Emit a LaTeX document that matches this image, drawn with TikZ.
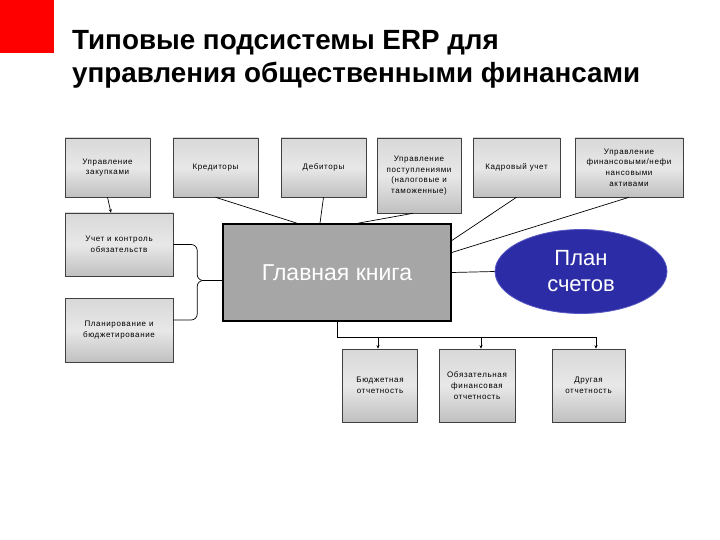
\documentclass[tikz,border=0pt]{standalone}
\usepackage{fontspec}
\setmainfont{Liberation Sans}
\newfontfamily\boxfont[LetterSpace=8]{Liberation Sans}
\usetikzlibrary{calc,arrows.meta,shapes.geometric}
\definecolor{corner}{HTML}{FF0000}
\definecolor{ink}{HTML}{000000}
\definecolor{frame}{HTML}{404040}
\definecolor{boxtop}{HTML}{D8D8D8}
\definecolor{boxmid}{HTML}{E8E8E8}
\definecolor{boxbot}{HTML}{C0C0C0}
\definecolor{ledger}{HTML}{A6A6A6}
\definecolor{chart}{HTML}{2C2CA6}
\definecolor{chartrim}{HTML}{5858C4}
\tikzset{
  title/.style={text=ink, font=\bfseries\fontsize{27.8}{32}\selectfont, inner sep=0pt},
  sub/.style={draw=frame, line width=0.6pt, top color=boxtop, bottom color=boxbot, middle color=boxmid,
    minimum width=85pt, minimum height=59pt, align=center, inner sep=1pt, text=ink,
    font=\boxfont\fontsize{8}{10.7}\selectfont},
  report/.style={sub, minimum width=75pt, minimum height=73pt},
  ledgerbox/.style={draw=ink, fill=ledger, line width=1.6pt, minimum width=228pt, minimum height=97pt,
    text=white, font=\fontsize{23}{27}\selectfont},
  chartell/.style={ellipse, draw=chartrim, fill=chart, line width=0.8pt, minimum width=172pt,
    minimum height=84pt, inner sep=0pt, align=center, text=white, font=\fontsize{22}{26}\selectfont},
  link/.style={draw=ink, line width=0.7pt},
  arr/.style={-{Stealth[length=3.5pt,width=3pt]}},
  shadeline/.style={draw=frame, line width=1.4pt},
}
\begin{document}
\begin{tikzpicture}[x=1pt,y=-1pt]
  \useasboundingbox (0,0) rectangle (720,540);
  \fill[corner] (0,0) rectangle (54,53);
  \node[title,anchor=base west] (t1) at (72,50) {Типовые подсистемы ERP для};
  \node[title,anchor=base west] (t2) at (72,83) {управления общественными финансами};

  % top row
  \node[sub] (zak) at (107.5,167.5) {Управление\\закупками};
  \node[sub] (kred) at (215.5,167.5) {Кредиторы};
  \node[sub] (deb) at (323.5,167.5) {Дебиторы};
  \node[sub,minimum width=84pt,minimum height=75pt] (post) at (419,175.5)
    {Управление\\поступлениями\\(налоговые и\\таможенные)};
  \node[sub,minimum width=87pt] (kadr) at (516.5,167.5) {Кадровый учет};
  \node[sub,minimum width=108pt] (akt) at (629,167.5)
    {Управление\\финансовыми/нефи\\нансовыми\\активами};
  % left column
  \node[sub,minimum width=108pt,minimum height=63pt] (uchet) at (119,244.5) {Учет и контроль\\обязательств};
  \node[sub,minimum width=108pt,minimum height=64pt] (planir) at (119,330) {Планирование и\\бюджетирование};
  % centre
  \node[ledgerbox] (gk) at (337,272.5) {Главная книга};
  \node[chartell] (plan) at (581,271.5) {План\\счетов};
  % reports
  \node[report] (bud) at (380,385.5) {Бюджетная\\отчетность};
  \node[report,minimum width=76pt] (obyaz) at (477,385.5) {Обязательная\\финансовая\\отчетность};
  \node[report,minimum width=73pt] (drug) at (588.5,385.5) {Другая\\отчетность};
  \foreach \n in {zak,kred,deb,post,kadr,akt,uchet,planir,bud,obyaz,drug}
    \draw[shadeline] (\n.south west) -- (\n.south east);

  % links
  \draw[link,arr] (zak.south) -- ([xshift=-8pt]uchet.north);
  \draw[link] (kred.south) -- ([xshift=-40pt]gk.north);
  \draw[link] (deb.south) -- ([xshift=-17pt]gk.north);
  \draw[link] ([xshift=-6pt]post.south) -- ([xshift=21pt]gk.north);
  \draw[link] (kadr.south) -- ([yshift=32pt]gk.east);
  \draw[link] (akt.south) -- ([yshift=20pt]gk.east);
  \draw[link] (gk.east) -- (plan.west);
  \coordinate (cusp) at ([xshift=-25pt,yshift=-8pt]gk.west);
  \draw[link,rounded corners=6pt] (uchet.east) -| (cusp) -- ([yshift=-8pt]gk.west);
  \draw[link,rounded corners=6pt] ([yshift=10pt]planir.east) -| (cusp) -- ([yshift=-8pt]gk.west);
  \coordinate (bus) at (596,337);
  \draw[link] (gk.south) |- (bus);
  \foreach \n/\dx in {bud/-2,obyaz/4,drug/7.5}
    \draw[link,arr] ([xshift=\dx pt]\n.north |- bus) -- ([xshift=\dx pt]\n.north);
\end{tikzpicture}
\end{document}
